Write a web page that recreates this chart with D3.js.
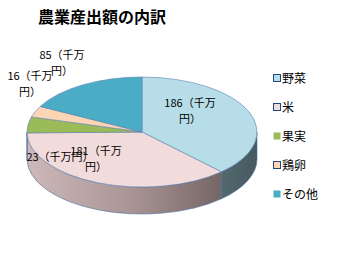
<!DOCTYPE html>
<meta charset="utf-8">
<title>農業産出額の内訳</title>
<style>
  body { margin: 0; background: #fff; }
  text { font-family: "Noto Sans CJK JP", sans-serif; }
</style>
<body>
<script src="https://cdn.jsdelivr.net/npm/d3@7"></script>
<script>
// data
var categories = ["野菜", "米", "果実", "鶏卵", "その他"];
var values = [186, 181, 23, 16, 85];
var topColors = ["#b7dde8", "#f2dcdb", "#9bbb59", "#fcd5b5", "#4bacc6"];
var legendStroke = ["#1f497d", "#1f497d", null, "#1f497d", null];

// label lines and where they sit, relative to the pie centre
var labelLines = [["186（千万", "円）"], ["181（千万", "円）"], ["23（千万円）"], ["16（千万", "円）"], ["85（千万", "円）"]];
var labelOffset = [[48, -25], [-46, 23], [-82, 29], [-112, -52], [-80, -73]];

var width = 350, height = 273;
var cx = 142, cy = 132, rx = 115, ry = 55, depth = 27;

var svg = d3.select("body").append("svg")
    .attr("width", width)
    .attr("height", height);

var defs = svg.append("defs");

// side shading for the front of the cylinder
var g1 = defs.append("linearGradient").attr("id", "sideRice")
    .attr("gradientUnits", "userSpaceOnUse")
    .attr("x1", cx - rx).attr("x2", cx + rx).attr("y1", 0).attr("y2", 0);
g1.append("stop").attr("offset", "0%").attr("stop-color", "#cdb9b9");
g1.append("stop").attr("offset", "45%").attr("stop-color", "#a99595");
g1.append("stop").attr("offset", "80%").attr("stop-color", "#7c6b6b");
g1.append("stop").attr("offset", "100%").attr("stop-color", "#5f5252");

var g2 = defs.append("linearGradient").attr("id", "sideVeg")
    .attr("gradientUnits", "userSpaceOnUse")
    .attr("x1", cx + rx * 0.6).attr("x2", cx + rx).attr("y1", 0).attr("y2", 0);
g2.append("stop").attr("offset", "0%").attr("stop-color", "#566c73");
g2.append("stop").attr("offset", "100%").attr("stop-color", "#465a60");

var sideFill = ["url(#sideVeg)", "url(#sideRice)", "#6f8a3d", "#b89a80", "#357e91"];

// angles from d3.pie, clockwise from 12 o'clock
var pie = d3.pie().sort(null).value(function(d) { return d; });
var arcs = pie(values);

function px(a) { return cx + rx * Math.sin(a); }
function py(a) { return cy - ry * Math.cos(a); }

function topPath(d) {
  var large = (d.endAngle - d.startAngle) > Math.PI ? 1 : 0;
  return "M" + cx + "," + cy +
    "L" + px(d.startAngle) + "," + py(d.startAngle) +
    "A" + rx + "," + ry + " 0 " + large + " 1 " + px(d.endAngle) + "," + py(d.endAngle) + "Z";
}

function sidePath(d) {
  var a0 = Math.max(d.startAngle, Math.PI / 2),
      a1 = Math.min(d.endAngle, Math.PI * 1.5);
  if (a1 <= a0) return null;
  return "M" + px(a0) + "," + py(a0) +
    "A" + rx + "," + ry + " 0 0 1 " + px(a1) + "," + py(a1) +
    "L" + px(a1) + "," + (py(a1) + depth) +
    "A" + rx + "," + ry + " 0 0 0 " + px(a0) + "," + (py(a0) + depth) + "Z";
}

var plot = svg.append("g");

// sides
plot.selectAll(".side")
    .data(arcs.filter(function(d) { return sidePath(d); }))
    .enter().append("path")
    .attr("class", "side")
    .attr("d", sidePath)
    .attr("fill", function(d) { return sideFill[d.index]; })
    .attr("stroke", "#4f6f9f")
    .attr("stroke-width", 0.6);

// tops
plot.selectAll(".top")
    .data(arcs)
    .enter().append("path")
    .attr("class", "top")
    .attr("d", topPath)
    .attr("fill", function(d) { return topColors[d.index]; })
    .attr("stroke", "#5a7fb0")
    .attr("stroke-width", 0.6)
    .attr("stroke-linejoin", "round");

// data labels
var labels = svg.append("g").selectAll("text")
    .data(arcs)
    .enter().append("text")
    .attr("text-anchor", "middle")
    .attr("font-size", 11)
    .attr("fill", "#000")
    .attr("transform", function(d) {
      var o = labelOffset[d.index];
      return "translate(" + (cx + o[0]) + "," + (cy + o[1]) + ")";
    });

labels.selectAll("tspan")
    .data(function(d) { return labelLines[d.index]; })
    .enter().append("tspan")
    .attr("x", 0)
    .attr("dy", function(d, i) { return i === 0 ? 0 : 15.5; })
    .text(function(d) { return d; });

// title
svg.append("text")
    .attr("x", 102)
    .attr("y", 23)
    .attr("text-anchor", "middle")
    .attr("font-size", 16)
    .attr("font-weight", "bold")
    .text("農業産出額の内訳");

// legend
var legendY = d3.scalePoint().domain(categories).range([78, 194]);

var legend = svg.append("g").selectAll("g")
    .data(categories)
    .enter().append("g")
    .attr("transform", function(d) { return "translate(273," + legendY(d) + ")"; });

legend.append("rect")
    .attr("x", 0.5)
    .attr("y", -3.5)
    .attr("width", 7)
    .attr("height", 7)
    .attr("fill", function(d, i) { return topColors[i]; })
    .attr("stroke", function(d, i) { return legendStroke[i] || "none"; })
    .attr("stroke-width", 1);

legend.append("text")
    .attr("x", 9)
    .attr("y", 4.5)
    .attr("font-size", 12)
    .text(function(d) { return d; });
</script>
</body>
